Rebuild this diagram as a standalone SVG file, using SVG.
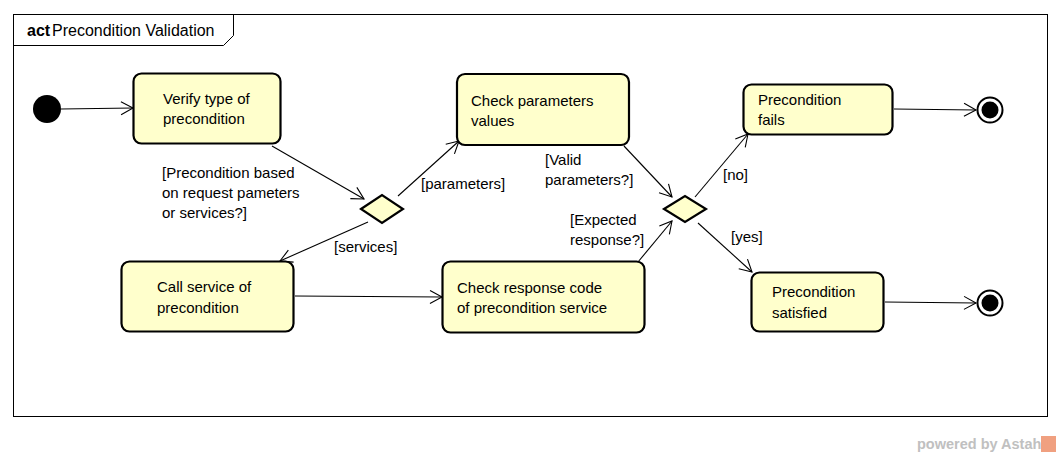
<svg xmlns="http://www.w3.org/2000/svg" width="1061" height="457" viewBox="0 0 1061 457">
<style>
text{font-family:"Liberation Sans",Arial,sans-serif;font-size:15px;fill:#000}
.act{fill:#ffffcc;stroke:#000;stroke-width:2.2}
.dec{fill:#ffffcc;stroke:#000;stroke-width:2.2}
.edge{fill:none;stroke:#000;stroke-width:1.1}
</style>
<defs>
<marker id="arr" markerUnits="userSpaceOnUse" markerWidth="16" markerHeight="16" viewBox="0 0 16 16" refX="14" refY="8" orient="auto">
<path d="M2,1.5 L14,8 L2,14.5" fill="none" stroke="#000" stroke-width="1.1"/>
</marker>
</defs>
<rect x="0" y="0" width="1061" height="457" fill="#fff"/>
<g id="frame">
<rect x="13.5" y="14.5" width="1034" height="402" fill="none" stroke="#000" stroke-width="1"/>
<path d="M13.5,45.5 L223.5,45.5 L233.5,35.5 L233.5,14.5" fill="none" stroke="#000" stroke-width="1"/>
<text x="27" y="36" style="font-weight:bold;font-size:16px">act</text>
<text x="52" y="36" style="font-size:16px">Precondition Validation</text>
</g>
<g id="connectors">
<line class="edge" x1="61" y1="109" x2="133" y2="108" marker-end="url(#arr)"/>
<line class="edge" x1="272" y1="146" x2="364" y2="199" marker-end="url(#arr)"/>
<line class="edge" x1="398" y1="196" x2="459" y2="141" marker-end="url(#arr)"/>
<line class="edge" x1="368" y1="222" x2="280" y2="261" marker-end="url(#arr)"/>
<line class="edge" x1="624" y1="146" x2="672" y2="197" marker-end="url(#arr)"/>
<line class="edge" x1="638" y1="262" x2="672" y2="221" marker-end="url(#arr)"/>
<line class="edge" x1="295" y1="296" x2="442" y2="297" marker-end="url(#arr)"/>
<line class="edge" x1="695" y1="197" x2="748" y2="134" marker-end="url(#arr)"/>
<line class="edge" x1="698" y1="223" x2="752" y2="272" marker-end="url(#arr)"/>
<line class="edge" x1="894" y1="109" x2="976" y2="110" marker-end="url(#arr)"/>
<line class="edge" x1="885" y1="302" x2="976" y2="303" marker-end="url(#arr)"/>
<text x="162" y="178">[Precondition based</text>
<text x="162" y="198">on request pameters</text>
<text x="162" y="218">or services?]</text>
<text x="421" y="189">[parameters]</text>
<text x="334" y="252">[services]</text>
<text x="545" y="165">[Valid</text>
<text x="545" y="185">parameters?]</text>
<text x="570" y="225">[Expected</text>
<text x="570" y="245">response?]</text>
<text x="723" y="180">[no]</text>
<text x="731" y="242">[yes]</text>
</g>
<g id="start"><circle cx="47" cy="109" r="14" fill="#000"/></g>
<g id="verify">
<rect class="act" x="133.5" y="73.5" width="147" height="70" rx="8"/>
<text x="163" y="104">Verify type of</text>
<text x="163" y="124">precondition</text>
</g>
<g id="decision1"><polygon class="dec" points="361,209 382,195 403,209 382,223"/></g>
<g id="checkparams">
<rect class="act" x="457" y="74" width="172" height="71" rx="8"/>
<text x="471" y="106">Check parameters</text>
<text x="471" y="126">values</text>
</g>
<g id="callservice">
<rect class="act" x="121.5" y="261.5" width="172" height="70" rx="8"/>
<text x="157" y="292">Call service of</text>
<text x="157" y="313">precondition</text>
</g>
<g id="checkresponse">
<rect class="act" x="442.5" y="261.5" width="202" height="71" rx="8"/>
<text x="457" y="293">Check response code</text>
<text x="457" y="313">of precondition service</text>
</g>
<g id="decision2"><polygon class="dec" points="664,209 685,196 706,209 685,222"/></g>
<g id="fails">
<rect class="act" x="743.5" y="84.5" width="149" height="50" rx="8"/>
<text x="758" y="105">Precondition</text>
<text x="758" y="125">fails</text>
</g>
<g id="satisfied">
<rect class="act" x="751.5" y="272.5" width="132" height="59" rx="8"/>
<text x="772" y="297">Precondition</text>
<text x="772" y="318">satisfied</text>
</g>
<g id="end1"><circle cx="990" cy="110" r="12.5" fill="#fff" stroke="#000" stroke-width="2"/><circle cx="990" cy="110" r="8.5" fill="#000"/></g>
<g id="end2"><circle cx="990" cy="303" r="12.5" fill="#fff" stroke="#000" stroke-width="2"/><circle cx="990" cy="303" r="8.5" fill="#000"/></g>
<g id="watermark">
<text x="917" y="449" style="font-size:14.5px;font-weight:bold;fill:#c0c0c0">powered by Astah</text>
<rect x="1041" y="436" width="15" height="16" fill="#f0a080"/>
</g>
</svg>
